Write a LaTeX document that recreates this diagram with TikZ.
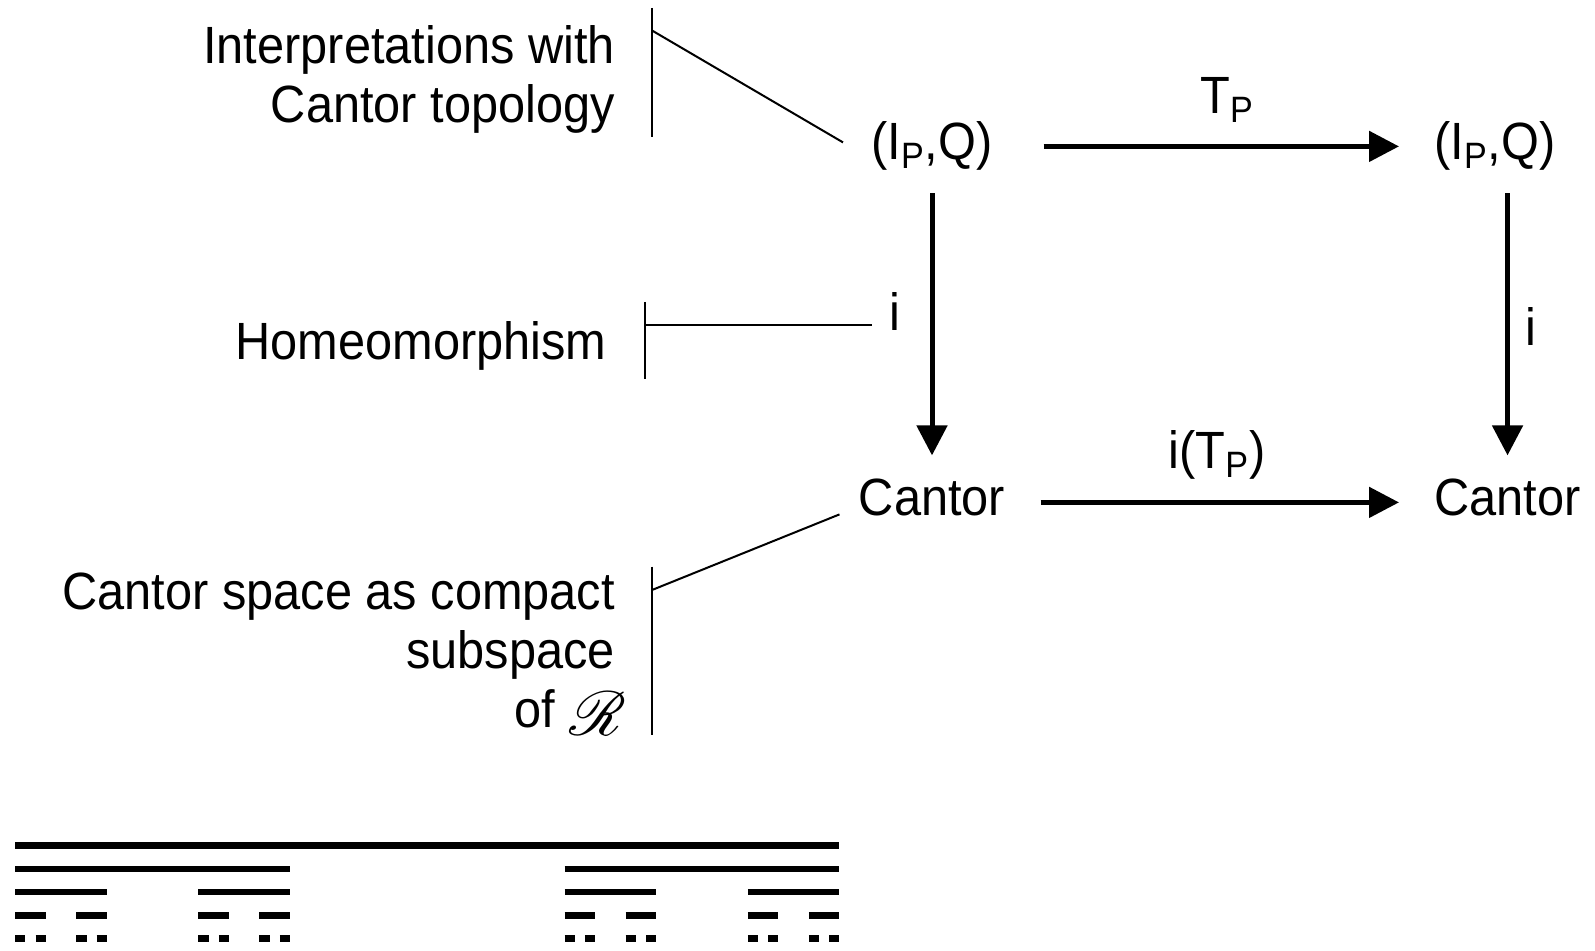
\documentclass[tikz,border=0pt]{standalone}
\usepackage{fontspec}
\setmainfont[FakeStretch=0.93]{Liberation Sans}
\usepackage{mathrsfs}
\usepackage{graphicx}
\usetikzlibrary{arrows.meta}

\begin{document}
\begin{tikzpicture}[x=0.5pt, y=-0.5pt,
  txt/.style={font=\fontsize{26.2pt}{29.5pt}\selectfont, inner sep=0pt},
  obj/.style={txt, inner xsep=17.5pt, inner ysep=11pt, text height=19.1pt, text depth=5.5pt},
  arr/.style={line width=2.5pt, -{Triangle[length=15pt,width=15pt]}},
  callout/.style={line width=1pt},
  bar/.style={line width=3.25pt}]
  \useasboundingbox (0,0) rectangle (1595,951);

  % the commuting square
  \node[obj, anchor=base] (pq1) at (932,160) {(I\textsubscript{P},Q)};
  \node[obj, anchor=base west] (pq2) at (1399,160) {(I\textsubscript{P},Q)};
  \node[obj, anchor=base] (c1) at (932,516) {Cantor};
  \node[obj, anchor=base west] (c2) at (1399,516) {Cantor};
  \draw[arr, shorten <=7.8pt] (pq1) -- (pq2);
  \draw[arr] (c1) -- (c2);
  \draw[arr] (pq1) -- (c1);
  \draw[arr] (c2 |- pq2.south) -- (c2.north);
  \node[txt, anchor=base] (tp) at (1227,114) {T\textsubscript{P}};
  \node[txt, anchor=base] (itp) at (1217,469) {i(T\textsubscript{P})};
  \node[txt, anchor=base] (il) at (895,330.6) {i};
  \node[txt, anchor=base] (ir) at (1531,345.8) {i};

  % explanations on the left
  \node[txt, align=right, anchor=north east] (interp) at (615.4,25.5) {Interpretations with\\Cantor topology};
  \node[txt, anchor=base east] (homeo) at (607,360) {Homeomorphism};
  \node[txt, align=right, anchor=north east] (cspace) at (615.4,573)
    {Cantor space as compact\\subspace\\of \makebox[23pt][l]{\raisebox{-4pt}{\scalebox{1.25}{$\mathscr{R}$}}}};
  \coordinate (k1) at (652,30.5);
  \coordinate (k2) at (645,325.5);
  \coordinate (k3) at (652,590);
  \draw[callout] (652,8) -- (652,137);
  \draw[callout] (k1) -- ([xshift=3.5pt,yshift=2pt]pq1.west);
  \draw[callout] (645,302) -- (645,379.4);
  \draw[callout, shorten >=8.5pt] (k2) -- (k2 -| il.west);
  \draw[callout] (652,566.6) -- (652,735.4);
  \draw[callout] (k3) -- ([xshift=8pt,yshift=-6pt]c1.west);

  % Cantor set, five levels
  \begin{scope}[shift={(15.3,845.7)}, bar]
    \draw (0,0) -- (824,0);
    \foreach \a in {0,549.33}
      \draw (\a,23.25) -- ++(274.67,0);
    \foreach \a in {0,549.33} \foreach \b in {0,183.11}
      \draw (\a+\b,46.5) -- ++(91.56,0);
    \foreach \a in {0,549.33} \foreach \b in {0,183.11} \foreach \c in {0,61.04}
      \draw (\a+\b+\c,69.75) -- ++(30.52,0);
    \foreach \a in {0,549.33} \foreach \b in {0,183.11} \foreach \c in {0,61.04} \foreach \d in {0,20.35}
      \draw (\a+\b+\c+\d,93) -- ++(10.17,0);
  \end{scope}
\end{tikzpicture}
\end{document}
